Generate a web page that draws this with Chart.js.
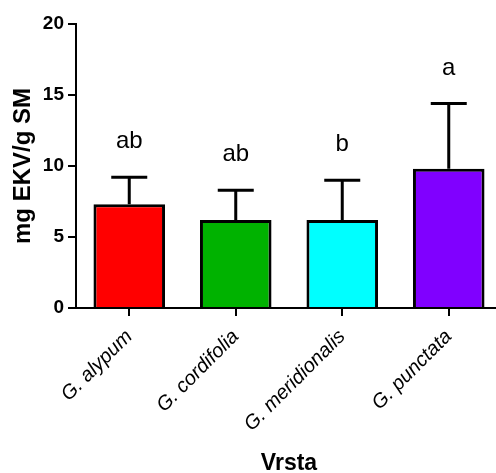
<!DOCTYPE html>
<html>
<head>
<meta charset="utf-8">
<script src="https://cdn.jsdelivr.net/npm/chart.js@4.4.0/dist/chart.umd.min.js"></script>
<style>
  html, body { margin: 0; padding: 0; background: #fff; overflow: hidden; }
  #wrap { width: 504px; height: 473px; }
</style>
</head>
<body>
<div id="wrap"><canvas id="barChart" width="504" height="473"></canvas></div>
<script>
var vrste = ['G. alypum', 'G. cordifolia', 'G. meridionalis', 'G. punctata'];
var srednje = [7.3, 6.2, 6.2, 9.8];
var greske = [1.9, 2.1, 2.8, 4.6];
var slova = ['ab', 'ab', 'b', 'a'];
var boje = ['#FF0000', '#00B200', '#00FFFF', '#8000FF'];
var yTicks = [0, 5, 10, 15, 20];

Chart.defaults.font.family = '"Liberation Sans", Arial, sans-serif';
Chart.defaults.color = '#000';

// error bars (upper only) + letters above them
var errorBars = {
  id: 'errorBars',
  afterDatasetsDraw: function(chart) {
    var ctx = chart.ctx;
    var y = chart.scales.y;
    var meta = chart.getDatasetMeta(0);
    ctx.save();
    ctx.strokeStyle = '#000';
    ctx.lineWidth = 3;
    meta.data.forEach(function(bar, i) {
      var top = y.getPixelForValue(srednje[i]);
      var cap = y.getPixelForValue(srednje[i] + greske[i]);
      ctx.beginPath();
      ctx.moveTo(bar.x, top);
      ctx.lineTo(bar.x, cap);
      ctx.moveTo(bar.x - 18, cap);
      ctx.lineTo(bar.x + 18, cap);
      ctx.stroke();

      ctx.fillStyle = '#000';
      ctx.font = '24px "Liberation Sans", Arial, sans-serif';
      ctx.textAlign = 'center';
      ctx.textBaseline = 'alphabetic';
      ctx.fillText(slova[i], bar.x, cap - 29);
    });
    ctx.restore();
  }
};

var ctx = document.getElementById('barChart');
var myChart = new Chart(ctx, {
  type: 'bar',
  data: {
    labels: vrste,
    datasets: [{
      data: srednje,
      backgroundColor: boje,
      borderColor: '#000',
      borderWidth: 3,
      borderSkipped: 'bottom',
      barPercentage: 0.672,
      categoryPercentage: 1
    }]
  },
  options: {
    responsive: false,
    animation: false,
    layout: { padding: { top: 24, left: 0, right: 2, bottom: 0 } },
    plugins: { legend: { display: false }, tooltip: { enabled: false } },
    scales: {
      x: {
        offset: true,
        grid: { offset: false, drawOnChartArea: false, drawTicks: true, tickLength: 8, color: '#000', lineWidth: 2 },
        border: { display: true, color: '#000', width: 2 },
        ticks: {
          maxRotation: 45, minRotation: 45, padding: 9,
          font: { size: 20, style: 'italic' }, color: '#000'
        },
        title: {
          display: true, text: 'Vrsta',
          font: { size: 23, weight: 'bold', lineHeight: 0.85 },
          padding: { top: 0, bottom: 0 }, color: '#000'
        },
        afterFit: function(scale) { scale.height = 165; }
      },
      y: {
        min: 0, max: 20,
        afterBuildTicks: function(scale) {
          scale.ticks = yTicks.map(function(v) { return { value: v }; });
        },
        grid: { drawOnChartArea: false, drawTicks: true, tickLength: 8, color: '#000', lineWidth: 2 },
        border: { display: true, color: '#000', width: 2 },
        ticks: { padding: 4, font: { size: 19, weight: 'bold' }, color: '#000' },
        title: {
          display: true, text: 'mg EKV/g SM',
          font: { size: 24, weight: 'bold' },
          padding: { top: 9, bottom: 0 }, color: '#000'
        },
        afterFit: function(scale) { scale.width = 76; }
      }
    }
  },
  plugins: [errorBars]
});
</script>
</body>
</html>
